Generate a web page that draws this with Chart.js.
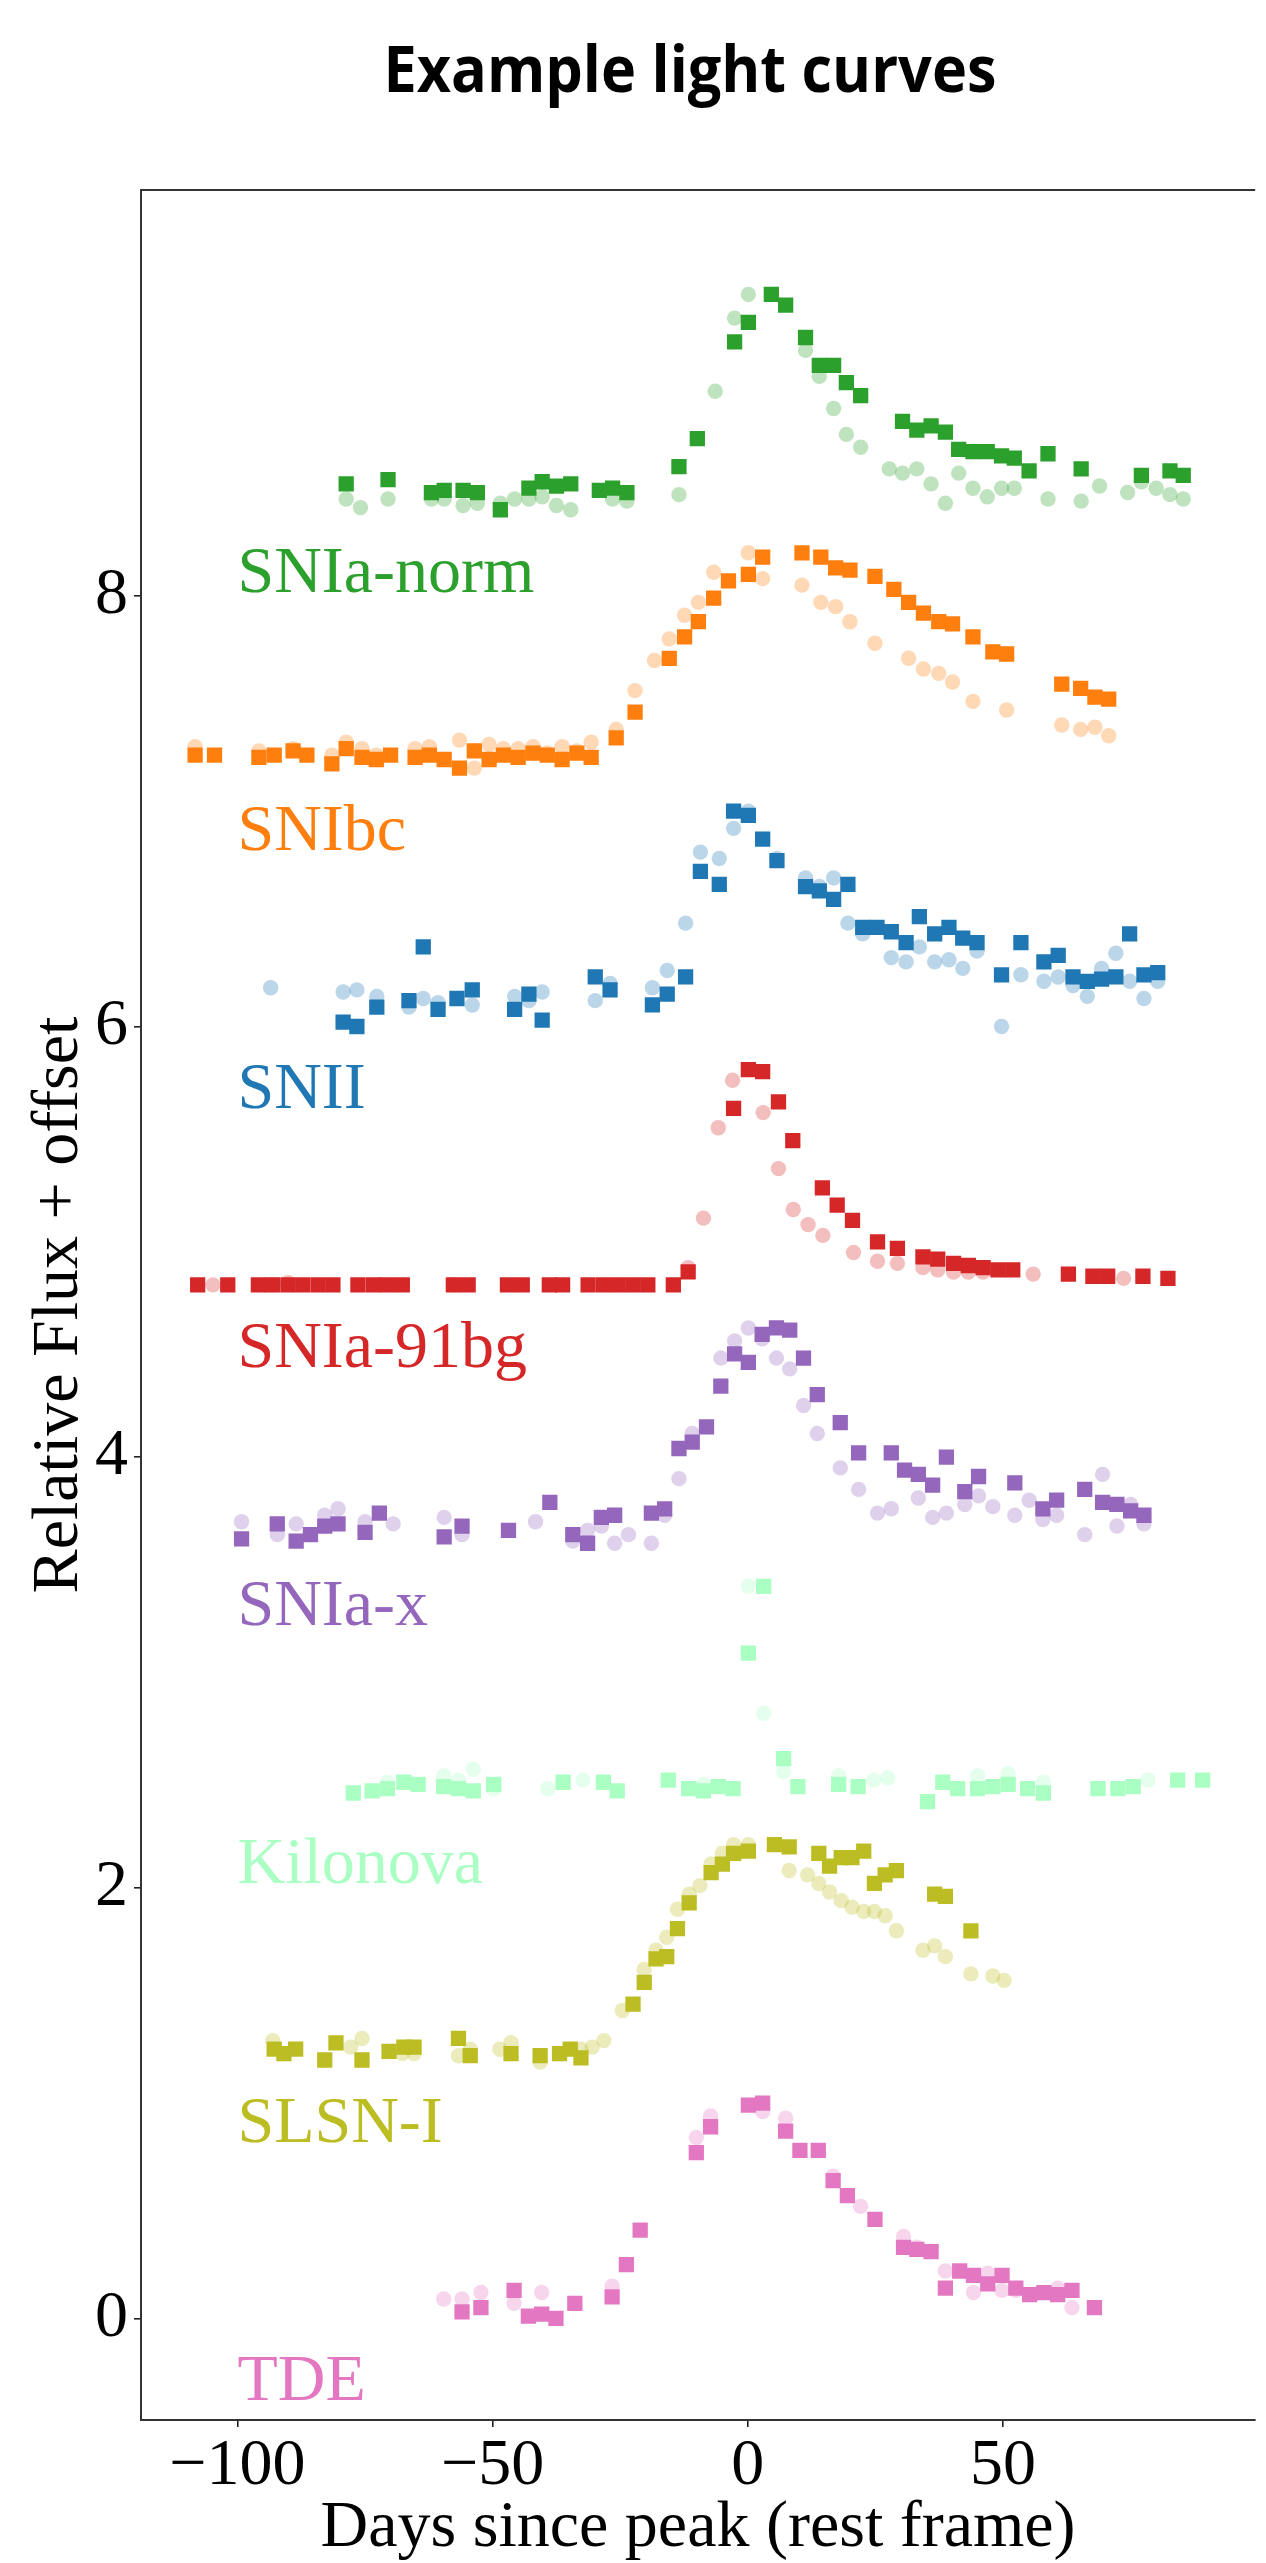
<!DOCTYPE html>
<html>
<head>
<meta charset="utf-8">
<script src="https://cdn.jsdelivr.net/npm/chart.js@4.4.1/dist/chart.umd.min.js"></script>
<style>
html,body{margin:0;padding:0;background:#fff;}
canvas{display:block;}
</style>
</head>
<body>
<canvas id="c" width="1266" height="2563"></canvas>
<script>
// ---------- text ----------
const titleText = 'Example light curves';
const xAxisTitle = 'Days since peak (rest frame)';
const yAxisTitle = 'Relative Flux + offset';
const xTicks = [-100, -50, 0, 50];
const yTicks = [0, 2, 4, 6, 8];

// ---------- classes ----------
const classNames = ['SNIa-norm', 'SNIbc', 'SNII', 'SNIa-91bg', 'SNIa-x', 'Kilonova', 'SLSN-I', 'TDE'];
const classOffsets = [8.4, 7.2, 6.0, 4.8, 3.6, 2.4, 1.2, 0.0];

// ---------- data (days since peak, relative flux + offset) ----------
// SNIa-norm
const normSqDays = [-78.7,-70.5,-62.0,-59.5,-55.8,-53.0,-48.5,-42.9,-40.3,-37.5,-34.7,-29.1,-26.5,-23.7,-13.5,-9.9,-2.6,0.1,4.6,7.4,11.3,14.0,16.8,19.3,22.1,30.3,33.1,35.9,38.7,41.3,44.1,46.9,49.7,52.2,55.1,58.8,65.3,77.1,82.7,85.3];
const normSqFlux = [8.52,8.54,8.48,8.49,8.49,8.48,8.40,8.50,8.53,8.51,8.52,8.49,8.50,8.48,8.60,8.73,9.18,9.27,9.40,9.35,9.20,9.07,9.07,8.99,8.93,8.81,8.77,8.79,8.76,8.68,8.67,8.67,8.65,8.64,8.58,8.66,8.59,8.56,8.58,8.56];
const normCiDays = [-78.7,-75.9,-70.5,-62.0,-59.5,-55.8,-53.0,-48.5,-45.7,-42.9,-40.3,-37.5,-34.7,-26.5,-23.7,-13.5,-6.4,-2.6,0.1,11.3,14.0,16.8,19.3,22.1,27.7,30.3,33.1,35.9,38.7,41.3,44.1,46.9,49.7,52.2,58.8,65.3,68.9,74.4,77.1,80.0,82.7,85.3];
const normCiFlux = [8.45,8.41,8.45,8.45,8.45,8.42,8.43,8.43,8.45,8.45,8.46,8.42,8.40,8.45,8.44,8.47,8.95,9.29,9.40,9.14,9.02,8.87,8.75,8.69,8.59,8.57,8.59,8.52,8.43,8.57,8.50,8.46,8.50,8.50,8.45,8.44,8.51,8.48,8.53,8.50,8.47,8.45];
// SNIbc
const ibcSqDays = [-108.3,-104.5,-95.8,-92.8,-89.1,-86.4,-81.5,-78.7,-75.6,-72.8,-70.0,-65.2,-62.4,-59.5,-56.5,-53.6,-50.7,-47.9,-45.0,-42.1,-39.3,-36.4,-33.5,-30.7,-25.8,-22.1,-15.4,-12.4,-9.7,-6.7,-3.8,0.1,2.9,10.6,14.3,17.2,20.0,24.9,28.6,31.5,34.4,37.4,40.1,44.1,48.0,50.7,61.5,65.2,68.0,70.7];
const ibcSqFlux = [7.26,7.26,7.25,7.26,7.28,7.26,7.22,7.29,7.25,7.24,7.26,7.25,7.26,7.24,7.20,7.28,7.24,7.26,7.25,7.27,7.26,7.24,7.27,7.25,7.34,7.46,7.71,7.81,7.88,7.99,8.07,8.10,8.18,8.20,8.18,8.13,8.12,8.09,8.03,7.97,7.92,7.88,7.87,7.81,7.74,7.73,7.59,7.57,7.53,7.52];
const ibcCiDays = [-108.3,-95.8,-89.1,-81.5,-78.7,-75.6,-72.8,-65.2,-62.4,-56.5,-53.6,-50.7,-47.9,-45.0,-42.1,-39.3,-36.4,-33.5,-30.7,-25.8,-22.1,-18.3,-15.4,-12.4,-9.7,-6.7,0.1,2.9,10.6,14.3,17.2,20.0,24.9,31.5,34.4,37.4,40.1,44.1,50.7,61.5,65.2,68.0,70.7];
const ibcCiFlux = [7.30,7.28,7.29,7.26,7.32,7.29,7.26,7.29,7.30,7.33,7.20,7.31,7.29,7.29,7.30,7.27,7.30,7.28,7.32,7.38,7.56,7.70,7.80,7.91,7.97,8.11,8.20,8.08,8.05,7.97,7.95,7.88,7.78,7.71,7.66,7.64,7.60,7.51,7.47,7.40,7.38,7.39,7.35];
// SNII
const iiSqDays = [-79.3,-76.6,-72.7,-66.4,-63.6,-60.7,-57.0,-54.0,-45.7,-42.9,-40.3,-29.9,-27.0,-18.7,-15.8,-12.2,-9.3,-5.6,-2.8,0.1,2.9,5.7,11.3,14.0,16.8,19.6,22.5,25.3,28.1,31.0,33.6,36.6,39.4,42.1,44.9,49.7,53.5,58.0,60.8,63.7,66.5,69.3,72.1,74.8,77.6,80.3];
const iiSqFlux = [6.02,6.00,6.09,6.12,6.37,6.08,6.13,6.17,6.08,6.15,6.03,6.23,6.17,6.10,6.15,6.23,6.72,6.66,7.00,6.98,6.87,6.77,6.65,6.63,6.59,6.66,6.46,6.46,6.44,6.39,6.51,6.43,6.46,6.41,6.39,6.24,6.39,6.30,6.33,6.23,6.21,6.22,6.23,6.43,6.24,6.25];
const iiCiDays = [-93.5,-79.3,-76.6,-72.7,-66.4,-63.6,-60.7,-54.0,-45.7,-42.9,-40.3,-29.9,-27.0,-18.7,-15.8,-12.2,-9.3,-5.6,-2.8,0.1,5.7,11.3,14.0,16.8,19.6,22.5,28.1,31.0,33.6,36.6,39.4,42.1,44.9,49.7,53.5,58.0,60.8,63.7,66.5,69.3,72.1,74.8,77.6,80.3];
const iiCiFlux = [6.18,6.16,6.17,6.14,6.09,6.13,6.11,6.10,6.14,6.12,6.16,6.12,6.20,6.18,6.26,6.48,6.81,6.78,6.92,7.00,6.78,6.69,6.65,6.69,6.48,6.43,6.32,6.30,6.37,6.30,6.31,6.27,6.35,6.00,6.24,6.21,6.23,6.19,6.14,6.27,6.34,6.21,6.13,6.21];
// SNIa-91bg
const bgSqDays = [-107.8,-101.9,-95.9,-93.1,-90.1,-87.2,-84.2,-81.3,-76.4,-73.4,-70.6,-67.7,-57.7,-54.8,-47.1,-44.2,-38.9,-36.3,-31.3,-28.3,-25.4,-22.5,-19.6,-14.6,-11.7,-2.8,0.1,2.9,6.0,8.8,14.6,17.5,20.5,25.4,29.3,34.3,37.2,40.3,43.2,46.1,49.0,51.9,62.8,67.6,70.5,77.4,82.3];
const bgSqFlux = [4.80,4.80,4.80,4.80,4.80,4.80,4.80,4.80,4.80,4.80,4.80,4.80,4.80,4.80,4.80,4.80,4.80,4.80,4.80,4.80,4.80,4.80,4.80,4.80,4.86,5.62,5.80,5.79,5.65,5.47,5.25,5.17,5.10,5.00,4.97,4.93,4.92,4.90,4.89,4.88,4.87,4.87,4.85,4.84,4.84,4.84,4.83];
const bgCiDays = [-104.8,-93.1,-90.1,-57.7,-11.7,-8.7,-5.8,-3.0,3.0,6.0,8.9,11.8,14.7,20.7,25.4,29.3,34.3,37.2,40.3,43.2,46.1,55.9,73.6];
const bgCiFlux = [4.80,4.80,4.81,4.80,4.88,5.11,5.53,5.75,5.60,5.34,5.15,5.08,5.03,4.95,4.91,4.90,4.88,4.87,4.86,4.86,4.86,4.85,4.83];
// SNIa-x
const iaxSqDays = [-99.2,-92.2,-88.5,-85.7,-82.9,-80.3,-75.0,-72.2,-59.5,-56.0,-46.9,-38.8,-34.3,-31.4,-28.7,-26.1,-18.9,-16.3,-13.5,-10.9,-8.1,-5.3,-2.6,0.1,2.8,5.6,8.2,10.9,13.6,18.1,21.7,28.1,30.7,33.4,36.2,38.9,42.5,45.2,52.3,57.8,60.5,66.0,69.5,72.3,75.0,77.6];
const iaxSqFlux = [3.62,3.69,3.61,3.64,3.68,3.69,3.65,3.74,3.63,3.68,3.66,3.79,3.64,3.60,3.72,3.73,3.74,3.76,4.04,4.07,4.14,4.33,4.48,4.44,4.57,4.60,4.59,4.46,4.29,4.16,4.02,4.02,3.94,3.92,3.87,4.00,3.84,3.91,3.88,3.76,3.80,3.85,3.79,3.78,3.75,3.73];
const iaxCiDays = [-99.2,-92.2,-88.5,-82.9,-80.3,-75.0,-69.5,-59.5,-56.0,-41.6,-34.3,-31.4,-28.7,-26.1,-23.4,-18.9,-16.3,-13.5,-10.9,-5.3,-2.6,0.1,2.8,5.6,8.2,10.9,13.6,18.1,21.7,25.4,28.1,33.4,36.2,38.9,42.5,45.2,48.0,52.3,55.1,57.8,60.5,66.0,69.5,72.3,75.0,77.6];
const iaxCiFlux = [3.70,3.64,3.69,3.73,3.76,3.70,3.69,3.72,3.64,3.70,3.61,3.66,3.68,3.60,3.64,3.60,3.73,3.90,4.11,4.46,4.54,4.60,4.55,4.46,4.41,4.24,4.11,3.95,3.85,3.74,3.76,3.81,3.72,3.74,3.78,3.82,3.77,3.73,3.80,3.71,3.73,3.64,3.92,3.68,3.78,3.69];
// Kilonova
const knSqDays = [-77.3,-73.6,-70.6,-67.4,-64.6,-59.6,-56.7,-53.8,-49.8,-36.2,-28.3,-25.6,-15.6,-11.6,-8.7,-5.8,-2.9,0.1,3.1,7.0,9.8,17.8,21.6,35.2,38.2,41.1,45.0,48.0,51.0,54.8,57.9,68.6,72.5,75.5,84.2,89.1];
const knSqFlux = [2.44,2.45,2.46,2.49,2.48,2.47,2.46,2.45,2.48,2.49,2.49,2.45,2.50,2.46,2.45,2.47,2.46,3.09,3.40,2.60,2.47,2.48,2.47,2.40,2.49,2.46,2.46,2.47,2.48,2.46,2.44,2.46,2.46,2.47,2.50,2.50];
const knCiDays = [-70.6,-59.6,-56.7,-53.8,-49.8,-39.2,-32.3,-8.7,0.1,3.1,7.0,17.8,24.7,27.4,45.0,51.0,57.9,78.4];
const knCiFlux = [2.49,2.52,2.50,2.55,2.46,2.46,2.50,2.48,3.40,2.81,2.54,2.52,2.50,2.51,2.52,2.53,2.49,2.50];
// SLSN-I
const slsnSqDays = [-92.8,-90.9,-88.6,-82.9,-80.7,-75.6,-70.3,-67.4,-65.4,-56.7,-54.4,-46.4,-40.7,-36.9,-34.8,-32.7,-22.5,-20.3,-18.0,-15.9,-13.8,-11.5,-7.2,-5.0,-2.8,0.1,5.2,8.1,13.9,16.0,18.3,20.4,22.7,24.8,26.9,29.1,36.6,38.7,43.7];
const slsnSqFlux = [1.25,1.23,1.25,1.20,1.28,1.20,1.24,1.26,1.26,1.30,1.22,1.23,1.22,1.23,1.25,1.21,1.46,1.56,1.67,1.68,1.81,1.93,2.07,2.11,2.16,2.17,2.20,2.19,2.16,2.10,2.14,2.14,2.17,2.02,2.06,2.08,1.97,1.96,1.80];
const slsnCiDays = [-93.1,-77.8,-75.6,-67.7,-65.4,-56.7,-54.4,-48.6,-46.4,-40.7,-32.7,-30.5,-28.2,-24.6,-20.3,-18.0,-15.9,-13.8,-11.5,-9.4,-7.2,-5.0,-2.8,0.1,8.1,11.7,13.9,16.0,18.3,20.4,22.7,24.8,26.9,29.1,34.3,36.6,38.7,43.7,48.0,50.2];
const slsnCiFlux = [1.29,1.26,1.30,1.23,1.23,1.22,1.25,1.25,1.28,1.19,1.25,1.26,1.29,1.43,1.62,1.71,1.77,1.90,1.97,2.01,2.11,2.16,2.20,2.20,2.08,2.06,2.02,1.98,1.94,1.91,1.89,1.89,1.87,1.80,1.71,1.73,1.68,1.60,1.59,1.57];
// TDE
const tdeSqDays = [-56.0,-52.3,-45.8,-43.0,-40.4,-37.6,-33.9,-26.6,-23.8,-21.1,-10.1,-7.3,0.1,2.9,7.4,10.2,13.8,16.7,19.5,24.9,30.5,33.1,35.9,38.7,41.5,44.2,47.0,49.8,52.5,55.2,58.0,60.7,63.5,67.9];
const tdeSqFlux = [0.03,0.05,0.13,0.01,0.02,0.00,0.07,0.10,0.25,0.41,0.77,0.89,0.99,1.00,0.87,0.78,0.78,0.64,0.57,0.46,0.33,0.32,0.31,0.14,0.22,0.20,0.16,0.20,0.14,0.11,0.12,0.11,0.13,0.05];
const tdeCiDays = [-59.6,-56.0,-52.3,-45.8,-40.4,-26.6,-10.1,-7.3,2.9,7.4,16.7,22.1,30.5,33.1,38.7,44.2,47.0,49.8,52.5,60.7,63.5];
const tdeCiFlux = [0.09,0.09,0.12,0.07,0.12,0.15,0.84,0.94,0.96,0.93,0.66,0.52,0.38,0.33,0.22,0.12,0.21,0.13,0.13,0.14,0.05];

// ---------- styling ----------
const classColors = ['#2ca02c', '#ff7f0e', '#1f77b4', '#d62728', '#9467bd', '#aaffc3', '#bcbd22', '#e377c2'];
const serif = '"Liberation Serif", "Times New Roman", serif';
const labelDay = -100;
const labelDrop = 0.38;

const bands = [
  [normSqDays, normSqFlux, normCiDays, normCiFlux],
  [ibcSqDays, ibcSqFlux, ibcCiDays, ibcCiFlux],
  [iiSqDays, iiSqFlux, iiCiDays, iiCiFlux],
  [bgSqDays, bgSqFlux, bgCiDays, bgCiFlux],
  [iaxSqDays, iaxSqFlux, iaxCiDays, iaxCiFlux],
  [knSqDays, knSqFlux, knCiDays, knCiFlux],
  [slsnSqDays, slsnSqFlux, slsnCiDays, slsnCiFlux],
  [tdeSqDays, tdeSqFlux, tdeCiDays, tdeCiFlux]
];

function pts(xs, ys) { return xs.map((x, i) => ({ x: x, y: ys[i] })); }
function rgba(hex, a) {
  const n = parseInt(hex.slice(1), 16);
  return 'rgba(' + ((n >> 16) & 255) + ',' + ((n >> 8) & 255) + ',' + (n & 255) + ',' + a + ')';
}

const datasets = [];
bands.forEach((b, i) => {
  datasets.push({
    label: classNames[i] + ' a',
    data: pts(b[0], b[1]),
    pointStyle: 'rect',
    pointRadius: 10.8,
    pointHoverRadius: 10.8,
    backgroundColor: classColors[i],
    borderWidth: 0,
    showLine: false,
    order: 0
  });
  datasets.push({
    label: classNames[i] + ' b',
    data: pts(b[2], b[3]),
    pointStyle: 'circle',
    pointRadius: 7.7,
    pointHoverRadius: 7.7,
    backgroundColor: rgba(classColors[i], 0.3),
    borderWidth: 0,
    showLine: false,
    order: 1
  });
});

const decor = {
  id: 'decor',
  afterDatasetsDraw(chart) {
    const ctx = chart.ctx;
    const xs = chart.scales.x, ys = chart.scales.y;
    const a = chart.chartArea;
    ctx.save();
    // top frame line
    ctx.strokeStyle = '#333';
    ctx.lineWidth = 2;
    ctx.beginPath();
    ctx.moveTo(a.left - 1, a.top);
    ctx.lineTo(a.right, a.top);
    ctx.stroke();
    // class labels
    ctx.font = '66px ' + serif;
    ctx.textAlign = 'left';
    ctx.textBaseline = 'alphabetic';
    classNames.forEach((name, i) => {
      ctx.fillStyle = classColors[i];
      ctx.fillText(name, xs.getPixelForValue(labelDay), ys.getPixelForValue(classOffsets[i] - labelDrop));
    });
    ctx.restore();
  },
  afterDraw(chart) {
    const ctx = chart.ctx;
    ctx.save();
    ctx.font = 'bold 64px "Open Sans", sans-serif';
    const w = ctx.measureText(titleText).width;
    ctx.translate(690, 92);
    ctx.scale(613 / w, 1);
    ctx.textAlign = 'center';
    ctx.textBaseline = 'alphabetic';
    ctx.fillStyle = '#000';
    ctx.fillText(titleText, 0, 0);
    ctx.restore();
  }
};

new Chart(document.getElementById('c'), {
  type: 'scatter',
  data: { datasets: datasets },
  options: {
    responsive: false,
    animation: false,
    devicePixelRatio: 1,
    events: [],
    layout: { padding: { top: 190, left: 0, right: 0, bottom: 0 } },
    plugins: { legend: { display: false }, tooltip: { enabled: false }, title: { display: false } },
    scales: {
      x: {
        type: 'linear',
        position: 'bottom',
        min: -118.9,
        max: 99.4,
        afterBuildTicks: s => { s.ticks = xTicks.map(v => ({ value: v })); },
        afterFit: s => { s.height = 143; },
        ticks: {
          font: { family: serif, size: 66 },
          color: '#000',
          padding: 0,
          maxRotation: 0,
          autoSkip: false,
          callback: v => String(v).replace('-', '\u2212')
        },
        grid: { display: true, drawOnChartArea: false, drawTicks: true, tickLength: 7, color: '#222', lineWidth: 1.6 },
        border: { display: true, color: '#333', width: 2 },
        title: { display: true, text: xAxisTitle, color: '#000', font: { family: serif, size: 66, lineHeight: 1 }, padding: { top: 0, bottom: 1 } }
      },
      y: {
        type: 'linear',
        position: 'left',
        min: -0.472,
        max: 9.885,
        afterBuildTicks: s => { s.ticks = yTicks.map(v => ({ value: v })); },
        afterFit: s => { s.width = 141; },
        ticks: { font: { family: serif, size: 66 }, color: '#000', padding: 6, autoSkip: false },
        grid: { display: true, drawOnChartArea: false, drawTicks: true, tickLength: 7, color: '#222', lineWidth: 1.6 },
        border: { display: true, color: '#333', width: 2 },
        title: { display: true, text: yAxisTitle, color: '#000', font: { family: serif, size: 66, lineHeight: 1 }, padding: { top: 27, bottom: 0 } }
      }
    }
  },
  plugins: [decor]
});
</script>
</body>
</html>
